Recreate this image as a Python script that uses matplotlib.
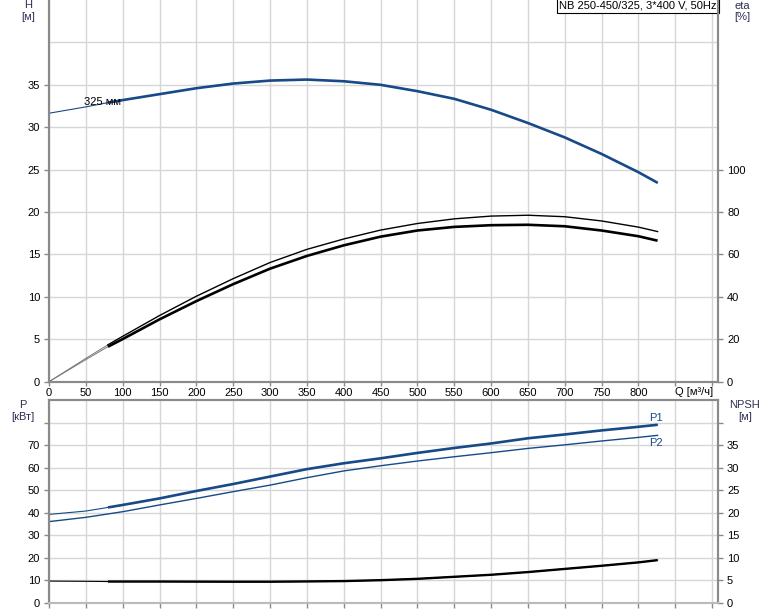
import matplotlib.pyplot as plt

plt.rcParams['font.family'] = ['Liberation Sans', 'DejaVu Sans']
plt.rcParams['font.size'] = 8

# flow, m3/h
q = [0, 50, 80, 100, 150, 200, 250, 300, 350, 400, 450, 500, 550, 600, 650, 700, 750, 800, 826]
# head, m
head = [31.65, 32.4, 32.9, 33.2, 33.9, 34.6, 35.15, 35.5, 35.62, 35.42, 35.0, 34.25, 33.35, 32.06, 30.5, 28.8, 26.85, 24.7, 23.45]
# efficiency, %
eta_pump = [0, 11.0, 17.4, 21.4, 31.2, 40.3, 48.6, 56.2, 62.4, 67.3, 71.5, 74.6, 76.8, 78.1, 78.5, 77.8, 75.8, 72.9, 70.8]
eta_total = [0, 10.4, 16.5, 20.1, 29.4, 38.0, 46.0, 53.3, 59.3, 64.3, 68.4, 71.3, 73.0, 73.8, 74.0, 73.3, 71.3, 68.6, 66.5]
# power, kW
p1 = [39.2, 40.7, 42.3, 43.4, 46.3, 49.6, 52.7, 56.0, 59.3, 61.9, 64.1, 66.5, 68.7, 70.7, 73.0, 74.7, 76.5, 78.1, 79.0]
p2 = [36.0, 37.9, 39.4, 40.4, 43.4, 46.3, 49.3, 52.2, 55.5, 58.5, 60.8, 62.9, 64.8, 66.6, 68.5, 70.1, 71.8, 73.4, 74.3]
# NPSH, m
npsh = [4.8, 4.75, 4.7, 4.7, 4.7, 4.68, 4.66, 4.66, 4.72, 4.8, 5.0, 5.3, 5.75, 6.2, 6.8, 7.5, 8.2, 8.95, 9.45]

q_ticks = list(range(0, 901, 50))
q_labels = [str(v) if v <= 800 else '' for v in q_ticks]

i0 = q.index(80)  # duty range starts here (thick part)
blue = '#174a87'
spine_c = '#8a8a8a'
grid_c = '#d6d6d6'
label_c = '#2e2e55'

W, H = 774, 611
fig = plt.figure(figsize=(W / 100, H / 100), dpi=100)

def frac(x0, y0, x1, y1):
    return [x0 / W, 1 - y1 / H, (x1 - x0) / W, (y1 - y0) / H]

def style(a):
    for s in a.spines.values():
        s.set_color(spine_c)
        s.set_linewidth(1.5)
    a.tick_params(colors=spine_c, labelcolor='black', length=3.5, width=1, pad=3)

# ---- top panel: H and eta
ax = fig.add_axes(frac(49, 0, 718, 381.7))
ax.set_xlim(0, 908)
ax.set_ylim(0, 45)
ax.set_xticks(q_ticks)
ax.set_xticklabels(q_labels)
ax.set_yticks(range(0, 36, 5))
ax.set_yticks([40], minor=True)
ax.tick_params(axis='y', which='minor', length=0)
ax.grid(True, which='both', color=grid_c, lw=1.0)
ax.set_axisbelow(True)
style(ax)
ax.tick_params(axis='x', length=3, pad=1.5)
ax.spines['top'].set_visible(False)

ax.plot(q, head, color=blue, lw=0.8)
ax.plot(q[i0:], head[i0:], color=blue, lw=1.9, solid_capstyle='butt')
ax.text(47, 33.0, '325 мм', ha='left', va='center')

ax_eta = ax.twinx()
ax_eta.set_ylim(0, 180)
ax_eta.set_yticks(range(0, 101, 20))
style(ax_eta)
ax_eta.spines['top'].set_visible(False)
ax_eta.plot(q[:i0 + 1], eta_pump[:i0 + 1], color='#777777', lw=0.7)
ax_eta.plot(q[:i0 + 1], eta_total[:i0 + 1], color='#777777', lw=0.7)
ax_eta.plot(q[i0:], eta_pump[i0:], color='black', lw=1.0)
ax_eta.plot(q[i0:], eta_total[i0:], color='black', lw=1.9, solid_capstyle='butt')

ax.text(875, -0.028, 'Q [м³/ч]', transform=ax.get_xaxis_transform(),
        ha='center', va='center')
ax.text(0.998, 0.999, 'NB 250-450/325, 3*400 V, 50Hz', transform=ax.transAxes,
        ha='right', va='top',
        bbox=dict(boxstyle='square,pad=0.2', fc='white', ec='black', lw=0.8))

# ---- bottom panel: P and NPSH
bx = fig.add_axes(frac(49, 400, 718, 602.7))
bx.set_xlim(0, 908)
bx.set_ylim(0, 90)
bx.set_xticks(q_ticks)
bx.tick_params(axis='x', length=0, labelbottom=False)
bx.set_yticks(range(0, 81, 10))
bx.set_yticklabels([str(v) if v <= 70 else '' for v in range(0, 81, 10)])
bx.grid(True, color=grid_c, lw=1.0)
bx.set_axisbelow(True)
style(bx)
bx.spines['bottom'].set_color('#bbbbbb')

bx.plot(q, p2, color=blue, lw=1.0)
bx.plot(q, p1, color=blue, lw=0.8)
bx.plot(q[i0:], p1[i0:], color=blue, lw=1.9, solid_capstyle='butt')
bx.text(824, 81.8, 'P1', color=blue, ha='center', va='center')
bx.text(824, 70.7, 'P2', color=blue, ha='center', va='center')

bx_n = bx.twinx()
bx_n.set_ylim(0, 45)
bx_n.set_yticks(range(0, 41, 5))
bx_n.set_yticklabels([str(v) if v <= 35 else '' for v in range(0, 41, 5)])
style(bx_n)
bx_n.spines['bottom'].set_color('#bbbbbb')
bx_n.plot(q, npsh, color='black', lw=0.8)
bx_n.plot(q[i0:], npsh[i0:], color='black', lw=1.7, solid_capstyle='butt')

# axis titles
for x, y, s in [(28, 5, 'H'), (28, 17, '[м]'), (742, 6, 'eta'), (742, 17, '[%]'),
                (23, 405, 'P'), (23, 416.5, '[кВт]'), (745, 404.5, 'NPSH'), (745, 417, '[м]')]:
    fig.text(x / W, 1 - y / H, s, ha='center', va='center', color=label_c)

fig.savefig('out.png', dpi=100)
